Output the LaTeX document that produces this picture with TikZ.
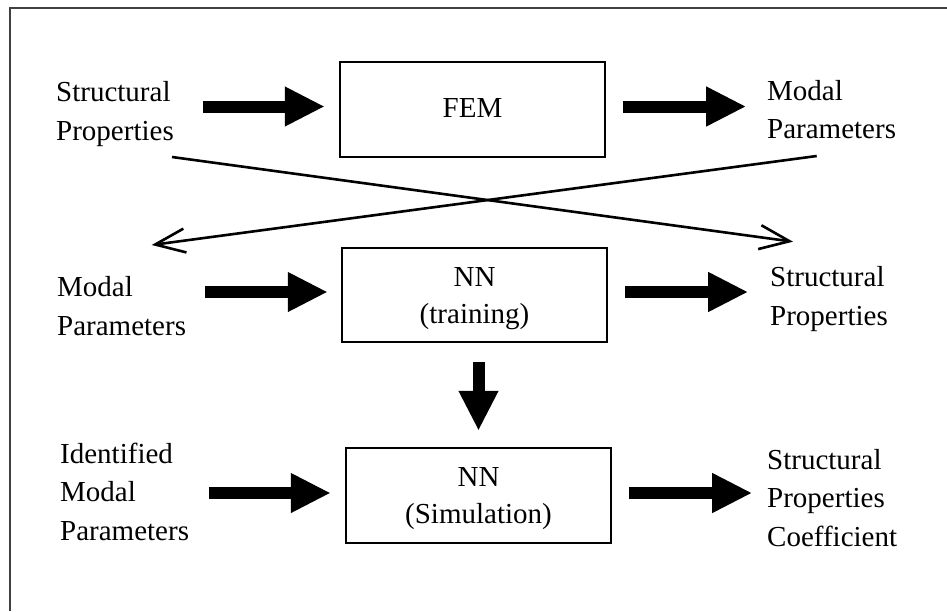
\documentclass[tikz,border=0pt]{standalone}
\usepackage{fontspec}
\setmainfont{Liberation Serif}
\usetikzlibrary{arrows.meta}
\newcommand{\mylines}[1]{\begin{tabular}[t]{@{}l@{}}#1\end{tabular}}
\begin{document}
\begin{tikzpicture}[x=1pt,y=-1pt,
  txt/.style={inner sep=0pt,anchor=base west,font=\fontsize{29}{38.5}\selectfont},
  boxtxt/.style={inner sep=0pt,anchor=base,font=\fontsize{29}{37}\selectfont},
  procbox/.style={draw,line width=1.8pt},
  bigarrow/.style={line width=12pt,-{Triangle[length=40pt,width=37pt]}},
  thinarrow/.style={line width=2.6pt,-{Straight Barb[length=30pt,width=24pt,line width=2.6pt]}}]
\useasboundingbox (0,0) rectangle (947,611);
\draw[line width=2pt,black!75] (10,611) -- (10,7.5) -- (947,7.5);
% boxes
\draw[procbox] (340,62) rectangle (605,157);
\node[inner sep=0pt] (fem) at (472.5,109.5) [minimum width=265pt,minimum height=95pt] {};
\draw[procbox] (342,248) rectangle (607,342);
\node[inner sep=0pt] (nnt) at (474.5,295) [minimum width=265pt,minimum height=94pt] {};
\draw[procbox] (346,448) rectangle (611,543);
\node[inner sep=0pt] (nns) at (478.5,495.5) [minimum width=265pt,minimum height=95pt] {};
% box texts
\node[boxtxt] (femt) at (472.5,117) {FEM};
\node[boxtxt] (nnt1) at (474.5,286.7) {NN};
\node[boxtxt] (nnt2) at (474.5,323) {(training)};
\node[boxtxt] (nns1) at (478.5,486.7) {NN};
\node[boxtxt] (nns2) at (478.5,523) {(Simulation)};
% side texts
\node[txt] (sp1) at (56,101.7) {\mylines{Structural\\Properties}};
\node[txt] (mp1) at (767,100) {\mylines{Modal\\Parameters}};
\node[txt] (mp2) at (57,296.7) {\mylines{Modal\\Parameters}};
\node[txt] (sp2) at (770,286.7) {\mylines{Structural\\Properties}};
\node[txt] (imp) at (60,463) {\mylines{Identified\\Modal\\Parameters}};
\node[txt] (spc) at (767,469) {\mylines{Structural\\Properties\\Coefficient}};
% big arrows
\draw[bigarrow] ([shift={(-137,-3)}]fem.west) -- ([shift={(-15,-3)}]fem.west);
\draw[bigarrow] ([shift={(18,-3)}]fem.east) -- ([shift={(141,-3)}]fem.east);
\draw[bigarrow] ([shift={(-137,-3)}]nnt.west) -- ([shift={(-14,-3)}]nnt.west);
\draw[bigarrow] ([shift={(18,-3)}]nnt.east) -- ([shift={(141,-3)}]nnt.east);
\draw[bigarrow] ([shift={(-137,-2.5)}]nns.west) -- ([shift={(-15,-2.5)}]nns.west);
\draw[bigarrow] ([shift={(18,-2.5)}]nns.east) -- ([shift={(141,-2.5)}]nns.east);
\draw[bigarrow] ([yshift=-20pt]nnt.south -| nns.north) -- ([yshift=17pt]nns.north);
% crossing lines
\coordinate (c1s) at (172,157);
\coordinate (c1e) at (793,241.7);
\coordinate (c2s) at (816.7,156);
\coordinate (c2e) at (151.7,245);
\draw[thinarrow] (c1s) -- (c1e);
\draw[thinarrow] (c2s) -- (c2e);
\end{tikzpicture}
\end{document}
